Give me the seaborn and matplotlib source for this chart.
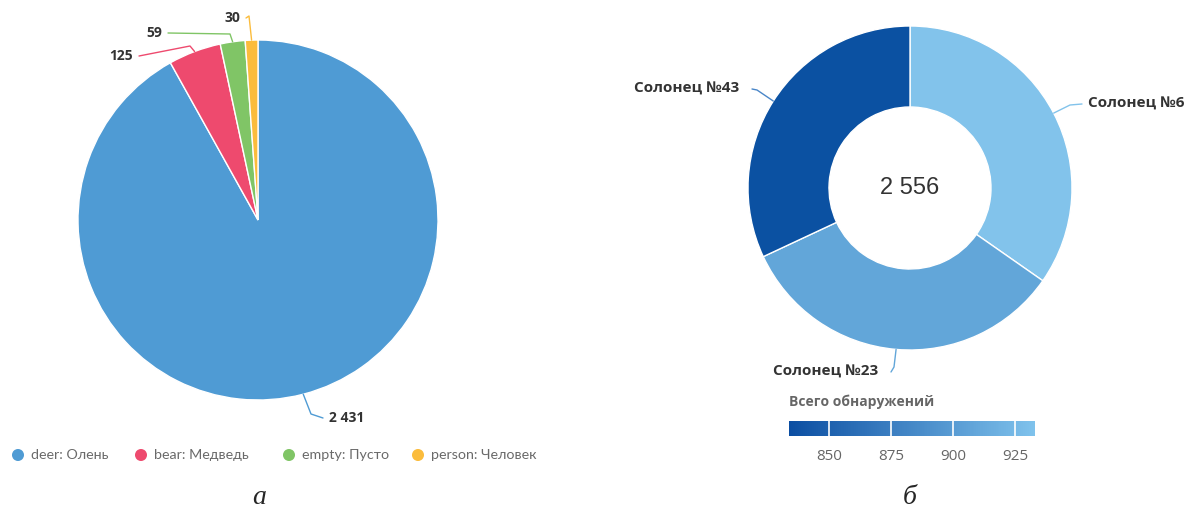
import numpy as np
import matplotlib
matplotlib.use("Agg")
import matplotlib.pyplot as plt
import matplotlib.colors as mcolors
from matplotlib.colorbar import ColorbarBase
import seaborn as sns

# left pie: detections by class
classes = ["deer: Олень", "bear: Медведь", "empty: Пусто", "person: Человек"]
class_counts = [2431, 125, 59, 30]
class_labels = ["2 431", "125", "59", "30"]
class_colors = ["#4f9bd4", "#ee4a6e", "#80c566", "#fbbc3c"]

# right donut: detections by site
sites = ["Солонец №6", "Солонец №23", "Солонец №43"]
site_counts = [887, 852, 817]
site_colors = ["#82c3eb", "#62a6d9", "#0b51a2"]
total_label = "2 556"

cbar_range = (834, 933)
cbar_ticks = [850, 875, 900, 925]

W, H = 1189, 508


def Y(py):
    return H - py


sns.set_theme(style="white")
plt.rcParams["font.family"] = ["Open Sans", "DejaVu Sans"]

fig = plt.figure(figsize=(W / 100, H / 100), dpi=100)
ax = fig.add_axes([0, 0, 1, 1])

# ---- pie (а)
pc = (258, 220)
pr = 180
wedges, _ = ax.pie(class_counts, colors=class_colors, startangle=90,
                   counterclock=False, center=(pc[0], Y(pc[1])), radius=pr,
                   wedgeprops=dict(edgecolor="white", linewidth=1))

# label text spot, bend point of the connector
pie_lab = [((329, 418), (311, 414), "left"),
           ((133, 56), (190, 46), "right"),
           ((162, 33), (230, 34), "right"),
           ((240, 18), (249, 16), "right")]
for w, lab, col, (tp, bend, ha) in zip(wedges, class_labels, class_colors, pie_lab):
    mid = np.deg2rad((w.theta1 + w.theta2) / 2)
    ex = pc[0] + pr * np.cos(mid)
    ey = pc[1] - pr * np.sin(mid)
    end = (tp[0] - 6, tp[1]) if ha == "left" else (tp[0] + 6, tp[1])
    ax.plot([ex, bend[0], end[0]], [Y(ey), Y(bend[1]), Y(end[1])],
            color=col, lw=1, solid_joinstyle="round")
    ax.text(tp[0], Y(tp[1]), lab, ha=ha, va="center", fontsize=10,
            fontweight="bold", color="#333333")

# legend
leg_x = [18, 141, 289, 418]
for x, name, col in zip(leg_x, classes, class_colors):
    ax.scatter([x], [Y(455)], s=75, color=col, edgecolor="none")
    ax.text(x + 13, Y(455), name, ha="left", va="center", fontsize=10.3,
            color="#6a6a6a", family=["Lato", "DejaVu Sans"])

# ---- donut (б)
dc = (910, 188)
dr = 162
dw, _ = ax.pie(site_counts, colors=site_colors, startangle=90,
               counterclock=False, center=(dc[0], Y(dc[1])), radius=dr,
               wedgeprops=dict(width=81, edgecolor="white", linewidth=1))
ax.text(dc[0], Y(dc[1]), total_label, ha="center", va="center",
        fontsize=17, color="#333333", family=["Liberation Sans"])

line_colors = ["#82c3eb", "#62a6d9", "#4a86c8"]
donut_lab = [((1088, 104), (1070, 105), "left"),
             ((878, 372), (894, 367), "right"),
             ((739, 89), (757, 90), "right")]
for w, lab, col, (tp, bend, ha) in zip(dw, sites, line_colors, donut_lab):
    mid = np.deg2rad((w.theta1 + w.theta2) / 2)
    ex = dc[0] + dr * np.cos(mid)
    ey = dc[1] - dr * np.sin(mid)
    end = (tp[0] - 6, tp[1]) if ha == "left" else (tp[0] + 13, tp[1])
    ax.plot([ex, bend[0], end[0]], [Y(ey), Y(bend[1]), Y(end[1])],
            color=col, lw=1)
    ax.text(tp[0], Y(tp[1]), lab, ha=ha, va="center", fontsize=11,
            fontweight="bold", color="#333333")

ax.set_xlim(0, W)
ax.set_ylim(0, H)
ax.set_aspect("auto")
ax.axis("off")

# colour axis
ax.text(789, Y(402), "Всего обнаружений", ha="left", va="center",
        fontsize=10, fontweight="bold", color="#666666")
cax = fig.add_axes([789 / W, 1 - 436 / H, (1035 - 789) / W, 15 / H])
cmap = sns.blend_palette(["#0b4ea2", "#7fc2ec"], as_cmap=True)
cb = ColorbarBase(cax, cmap=cmap, norm=mcolors.Normalize(*cbar_range),
                  orientation="horizontal", ticks=cbar_ticks)
cb.outline.set_visible(False)
for t in cbar_ticks:
    cax.axvline(t, color="white", lw=1.2)
cax.tick_params(length=0, pad=9, labelsize=11, labelcolor="#666666")

# captions
for x, s in [(259, "а"), (910, "б")]:
    fig.text(x / W, 1 - 497 / H, s, ha="center", va="center", fontsize=20,
             style="italic", family=["Liberation Serif"])

fig.savefig("out.png", dpi=100)
